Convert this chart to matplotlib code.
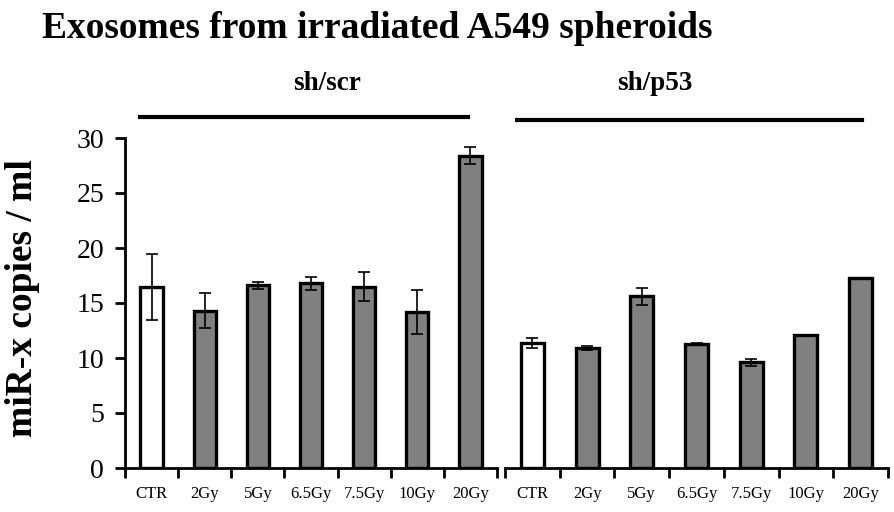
import matplotlib
matplotlib.use("Agg")
import matplotlib.pyplot as plt
import numpy as np

plt.rcParams['font.family'] = ['Liberation Serif', 'DejaVu Serif']

labels = ['CTR', '2Gy', '5Gy', '6.5Gy', '7.5Gy', '10Gy', '20Gy']
scr_vals = [16.5, 14.3, 16.6, 16.8, 16.5, 14.2, 28.4]
scr_err = [3.0, 1.6, 0.3, 0.6, 1.3, 2.0, 0.8]
p53_vals = [11.4, 10.9, 15.6, 11.3, 9.6, 12.1, 17.3]
p53_err = [0.45, 0.2, 0.75, 0.05, 0.3, 0.0, 0.0]
groups = ['sh/scr', 'sh/p53']

W, H = 895, 512
fig = plt.figure(figsize=(W / 100, H / 100), dpi=100)

def px(x0, x1, ytop, ybot):
    return [x0 / W, (H - ybot) / H, (x1 - x0) / W, (ybot - ytop) / H]

ax1 = fig.add_axes(px(125, 497, 138, 468))
ax2 = fig.add_axes(px(505, 888, 138, 468))

colors = ['white'] + ['#808080'] * 6
x = np.arange(len(labels))

for ax, vals, err in [(ax1, scr_vals, scr_err), (ax2, p53_vals, p53_err)]:
    ax.bar(x, vals, width=0.42, color=colors, edgecolor='black', linewidth=2.4, zorder=2)
    ax.errorbar(x, vals, yerr=err, fmt='none', ecolor='black', elinewidth=1.2,
                capsize=4, capthick=1.2, zorder=3)
    ax.set_xlim(-0.5, len(labels) - 0.5)
    ax.set_ylim(0, 30)
    ax.set_xticks(x)
    ax.set_xticklabels(labels, fontsize=12)
    ax.set_xticks(np.arange(-0.5, len(labels)), minor=True)
    ax.tick_params(axis='x', which='major', length=0, pad=13)
    ax.tick_params(axis='x', which='minor', length=7, width=2, direction='out')
    for s in ['top', 'right']:
        ax.spines[s].set_visible(False)
    ax.spines['bottom'].set_linewidth(2)
    ax.spines['left'].set_linewidth(2)

ax1.set_yticks(np.arange(0, 31, 5))
ax1.tick_params(axis='y', length=7, width=2, labelsize=20, pad=8)
ax1.set_ylabel('miR-x copies / ml', fontsize=27, fontweight='bold')
ax1.yaxis.set_label_coords((40 - 125) / (497 - 125), (468 - 298) / 330)

ax2.spines['left'].set_visible(False)
ax2.set_yticks([])

fig.text(42 / W, 1 - 28 / H, 'Exosomes from irradiated A549 spheroids',
         fontsize=27, fontweight='bold', va='center', ha='left')

# group brackets
for name, (x0, x1, y), xc in zip(groups, [(140, 468, 117), (517, 862, 120)], [327, 655]):
    fig.lines.append(plt.Line2D([x0 / W, x1 / W], [1 - y / H, 1 - y / H],
                                transform=fig.transFigure, color='black', linewidth=3))
    fig.text(xc / W, 1 - 83 / H, name, fontsize=19.5, fontweight='bold',
             ha='center', va='center')

fig.savefig('out.png', dpi=100)
